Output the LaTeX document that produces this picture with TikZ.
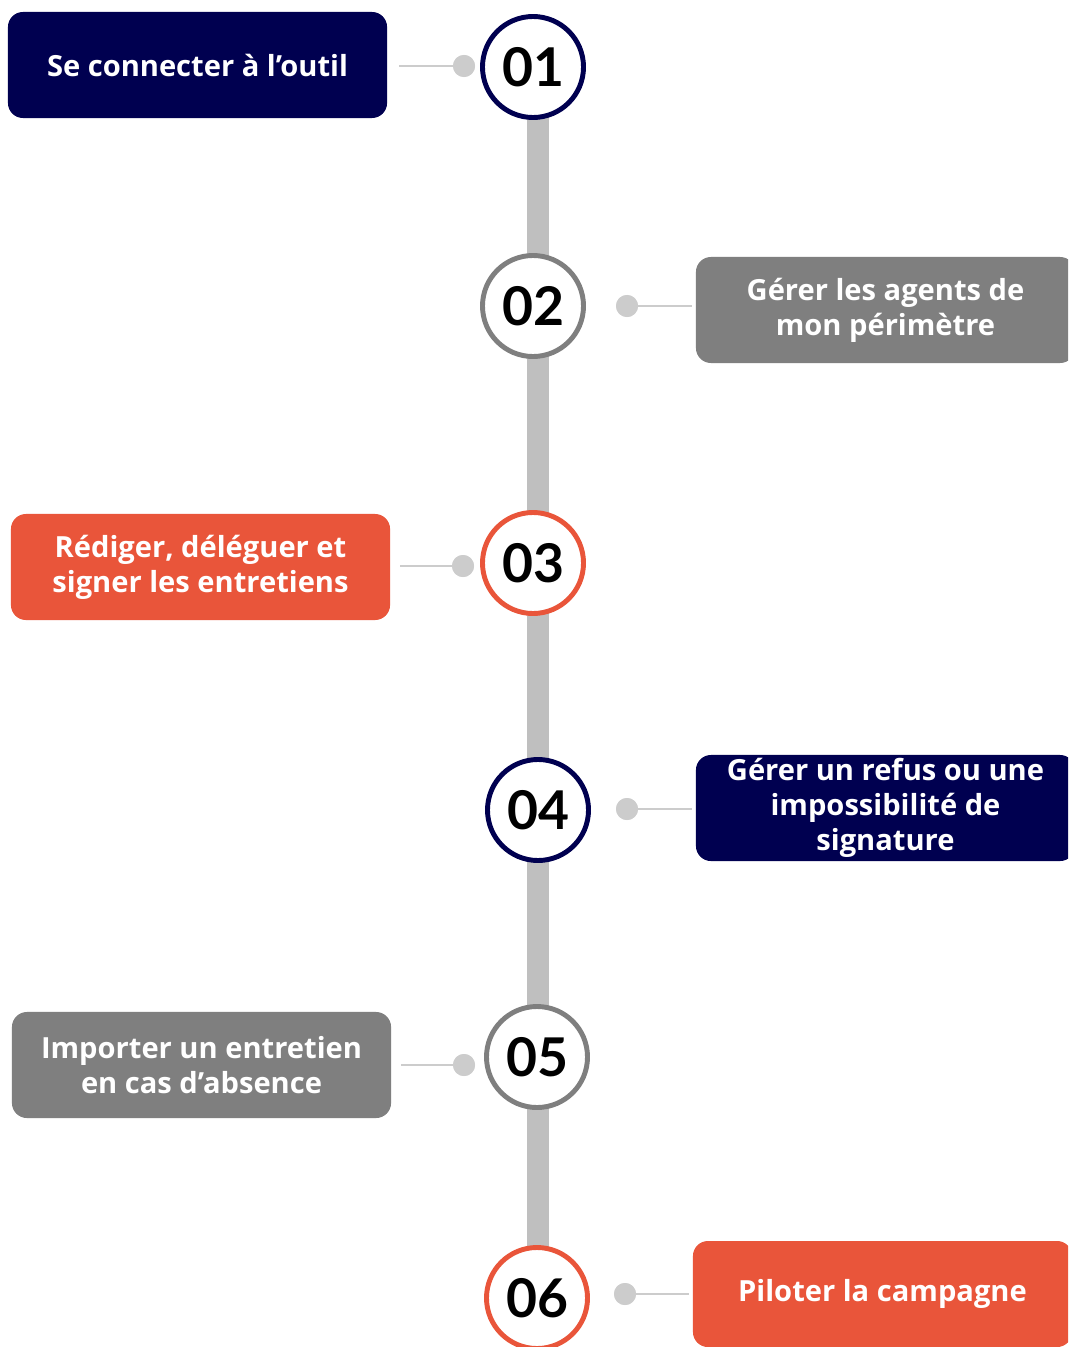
\documentclass[tikz,border=0pt]{standalone}
\usepackage{fontspec}
\setmainfont{Open Sans}
\newfontfamily\numfont{Lato}
\usepackage{tikz}
\usetikzlibrary{positioning}
\definecolor{navyfr}{RGB}{0,0,80}
\definecolor{orangefr}{RGB}{233,85,58}
\definecolor{greybox}{RGB}{127,127,127}
\definecolor{greybar}{RGB}{191,191,191}
\definecolor{greydot}{RGB}{204,204,204}
\tikzset{
  stepbox/.style={rounded corners=0.375cm, minimum width=9.475cm, minimum height=2.65cm,
    text=white, align=center, font=\bfseries\fontsize{20.7}{25}\selectfont, inner sep=0pt},
  stepnum/.style={circle, fill=white, line width=3.5pt, minimum size=2.525cm, inner sep=0pt,
    font=\numfont\bfseries\fontsize{38}{38}\selectfont},
  stepdot/.style={circle, fill=greydot, minimum size=0.55cm, inner sep=0pt},
  steplink/.style={greydot, line width=1.4pt}
}
\begin{document}
\begin{tikzpicture}[x=0.025cm, y=-0.025cm]
  \clip (0,0) rectangle (1068,1347);
  \fill[white] (0,0) rectangle (1068,1347);

  \coordinate (bartop) at (538,115);
  \coordinate (barbot) at (538,1250);
  \draw[greybar, line width=16.3pt] (bartop) -- (barbot);

  \node[stepnum, draw=navyfr] (n1) at (533,67) {01};
  \node[stepnum, draw=greybox] (n2) at (533,306) {02};
  \node[stepnum, draw=orangefr] (n3) at (533,563) {03};
  \node[stepnum, draw=navyfr] (n4) at (538,810) {04};
  \node[stepnum, draw=greybox] (n5) at (537,1057) {05};
  \node[stepnum, draw=orangefr] (n6) at (537,1298) {06};

  \node[stepbox, fill=navyfr] (b1) at (197.5,65) {Se connecter à l’outil};
  \node[stepbox, fill=greybox] (b2) at (885.5,310) {Gérer les agents de\\mon périmètre};
  \node[stepbox, fill=orangefr] (b3) at (200.5,567) {Rédiger, déléguer et\\signer les entretiens};
  \node[stepbox, fill=navyfr] (b4) at (885.5,808) {Gérer un refus ou une\\impossibilité de\\signature};
  \node[stepbox, fill=greybox] (b5) at (201.5,1065) {Importer un entretien\\en cas d’absence};
  \node[stepbox, fill=orangefr] (b6) at (882.5,1294) {Piloter la campagne};

  \node[stepdot] (d1) at (464,66) {};
  \node[stepdot] (d2) at (627,306) {};
  \node[stepdot] (d3) at (463,566) {};
  \node[stepdot] (d4) at (627,809) {};
  \node[stepdot] (d5) at (464,1065) {};
  \node[stepdot] (d6) at (625,1294) {};

  \draw[steplink] (d1.center) -- ([xshift=0.3cm]b1.east |- d1);
  \draw[steplink] (d2.center) -- ([xshift=-0.1cm]b2.west |- d2);
  \draw[steplink] (d3.center) -- ([xshift=0.25cm]b3.east |- d3);
  \draw[steplink] (d4.center) -- ([xshift=-0.1cm]b4.west |- d4);
  \draw[steplink] (d5.center) -- ([xshift=0.25cm]b5.east |- d5);
  \draw[steplink] (d6.center) -- ([xshift=-0.1cm]b6.west |- d6);
  \foreach \d in {d1,d2,d3,d4,d5,d6}
    \node[stepdot] at (\d) {};
\end{tikzpicture}
\end{document}
